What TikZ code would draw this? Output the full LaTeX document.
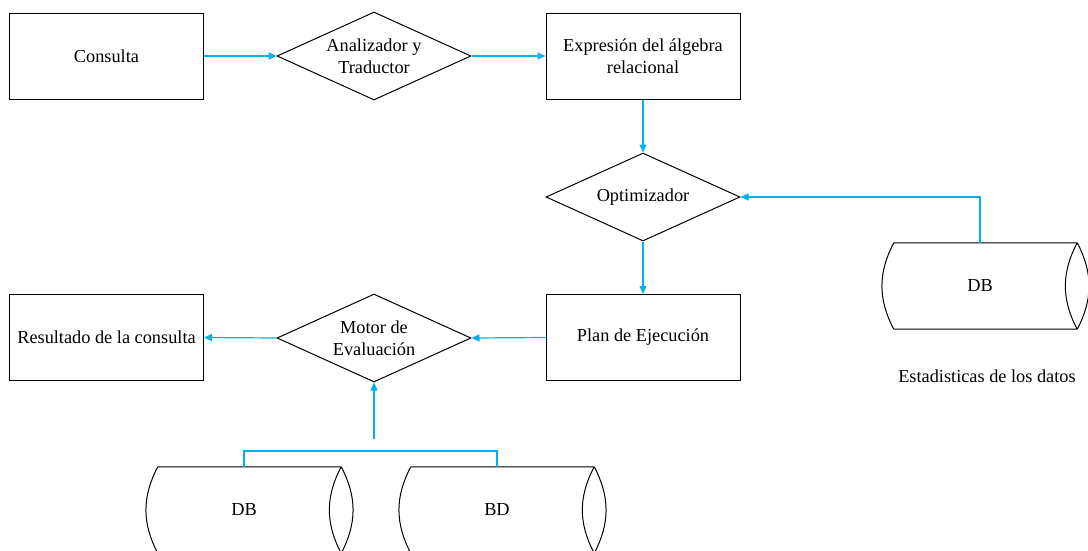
\documentclass[tikz,border=0pt]{standalone}
\usepackage{fontspec}
\setmainfont{Liberation Serif}
\usetikzlibrary{shapes.geometric,arrows.meta}
\definecolor{flow}{RGB}{0,176,240}
\tikzset{
  x=1pt, y=-1pt,
  every node/.style={font=\fontsize{18.3}{21.6}\selectfont},
  procbox/.style={draw, line width=1pt, rectangle, minimum width=194pt,
    minimum height=86pt, inner sep=0pt, align=center},
  decision/.style={draw, line width=1pt, diamond, minimum width=194pt,
    minimum height=88pt, inner sep=0pt},
  drum/.style={rectangle, minimum width=194pt, minimum height=86pt, inner sep=0pt},
  flowline/.style={draw=flow, line width=1.2pt},
  flowarrow/.style={flowline, -{Triangle[length=8pt,width=7pt]}},
}
% horizontal storage drum: outer arc on the left, lens on the right
\newcommand{\drumoutline}[1]{%
  \draw[line width=1pt]
    ([xshift=11pt]#1.north west) -- (#1.north east)
    ([xshift=11pt]#1.south west) -- (#1.south east)
    ([xshift=11pt]#1.north west) to[bend right=28] ([xshift=11pt]#1.south west)
    (#1.north east) to[bend left=28] (#1.south east)
    (#1.south east) to[bend left=28] (#1.north east);}
\begin{document}
\begin{tikzpicture}
\useasboundingbox (0,0) rectangle (1088,550);
\clip (0,0) rectangle (1088,550);

% process boxes
\node[procbox] (query)  at (106.5,56)  {Consulta};
\node[procbox] (expr)   at (643,56)    {Expresión del álgebra\\relacional};
\node[procbox] (plan)   at (643,337.5) {Plan de Ejecución};
\node[procbox] (result) at (106.5,337.5) {Resultado de la consulta};

% decisions
\node[decision, label={[align=center]center:Analizador y\\Traductor}] (parser) at (374,56) {};
\node[decision, label={center:Optimizador}] (optim) at (643,197) {};
\node[decision, label={[align=center]center:Motor de\\Evaluación}] (engine) at (374,338) {};

% data stores
\node[drum] (stats) at (980,286) {DB};
\node[drum] (dbA)   at (244,510) {DB};
\node[drum] (dbB)   at (497,510) {BD};
\drumoutline{stats}
\drumoutline{dbA}
\drumoutline{dbB}

\node (statslabel) at (987,376) {Estadisticas de los datos};

% flow
\draw[flowarrow] (query.east) -- (parser.west);
\draw[flowarrow] (parser.east) -- (expr.west);
\draw[flowarrow] (expr.south) -- (optim.north);
\draw[flowarrow] (optim.south) -- (plan.north);
\draw[flowarrow] (stats.north) |- (optim.east);
\draw[flowarrow] (plan.west) -- (engine.west -| engine.east);
\draw[flowarrow] (engine.west) -- (result.east);

\coordinate (feed) at (374,439);
\coordinate (branch) at (374,451);
\draw[flowarrow] (feed) -- (engine.south);
\draw[flowline] (dbA.north) |- (branch) -| (dbB.north);
\end{tikzpicture}
\end{document}
